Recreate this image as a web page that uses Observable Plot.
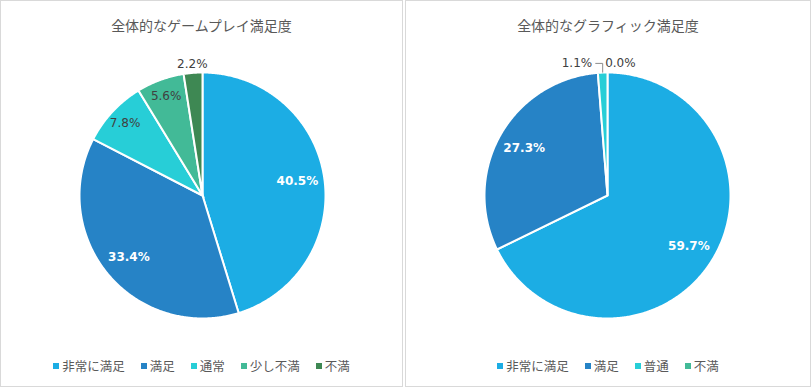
<!DOCTYPE html>
<html><head><meta charset="utf-8">
<script src="https://cdn.jsdelivr.net/npm/d3@7"></script>
<script src="https://cdn.jsdelivr.net/npm/@observablehq/plot@0.6"></script>
<style>
html,body{margin:0;padding:0;background:#fff;}
body{width:811px;height:387px;position:relative;overflow:hidden;font-family:"Noto Sans CJK JP","Noto Sans",sans-serif;}
.panel{position:absolute;top:0;height:385px;border:1px solid #d9d9d9;background:#fff;}
.title{position:absolute;top:15px;height:20px;line-height:20px;text-align:center;font-size:14px;color:#595959;white-space:nowrap;}
.chart{position:absolute;width:300px;height:300px;}
.legendbox{position:absolute;top:357px;text-align:center;}
.lg-swatches-wrap{min-height:0 !important;margin:0 !important;justify-content:center;line-height:18px;}
.lg-swatches-wrap .lg-swatch{margin-right:16px !important;}
.lg-swatches-wrap .lg-swatch:last-child{margin-right:0 !important;}
.lg-swatch > svg{margin-right:3px !important;}
</style>
</head><body>
<div class="panel" style="left:0;width:401px"></div>
<div class="panel" style="left:405px;width:404px"></div>
<script>
// ---- data ----
const gameplayTitle = "全体的なゲームプレイ満足度";
const gameplayCategories = ["非常に満足", "満足", "通常", "少し不満", "不満"];
const gameplayValues = [40.5, 33.4, 7.8, 5.6, 2.2];

const graphicsTitle = "全体的なグラフィック満足度";
const graphicsCategories = ["非常に満足", "満足", "普通", "不満"];
const graphicsValues = [59.7, 27.3, 1.1, 0.0];

// ---- styles ----
const palette = ["#1CADE4", "#2683C6", "#27CED7", "#42BA97", "#3E8853"];
const R = 123;           // pie radius in px
const HALF = 150;        // half size of chart svg
const S = HALF / R;      // scale domain half extent (unit = radius)

function drawPie(title, cats, vals, panelLeft, panelWidth, cx, cy) {
  const colors = palette.slice(0, cats.length);
  const rows = cats.map((c, i) => ({cat: c, value: vals[i]}));
  const total = d3.sum(vals);
  const arcs = d3.pie().sort(null).value(d => d.value)(rows);

  // polygon points for each slice (center + arc)
  const pts = [];
  for (const a of arcs) {
    if (a.endAngle - a.startAngle <= 0) continue;
    pts.push({cat: a.data.cat, x: 0, y: 0});
    const n = Math.max(2, Math.ceil((a.endAngle - a.startAngle) / (Math.PI / 360)));
    for (let k = 0; k <= n; k++) {
      const t = a.startAngle + (a.endAngle - a.startAngle) * k / n;
      pts.push({cat: a.data.cat, x: Math.sin(t), y: Math.cos(t)});
    }
  }

  // labels
  const labels = [];
  const outside = [];
  for (const a of arcs) {
    const share = a.data.value / total;
    const mid = (a.startAngle + a.endAngle) / 2;
    const text = a.data.value.toFixed(1) + "%";
    if (share >= 0.2) labels.push({kind: "big", text, x: 0.78 * Math.sin(mid), y: 0.78 * Math.cos(mid)});
    else if (share >= 0.03) labels.push({kind: "mid", text, x: 0.86 * Math.sin(mid), y: 0.86 * Math.cos(mid)});
    else outside.push({text, mid});
  }
  const outLabels = [];
  const leaders = [];
  if (outside.length === 1) {
    const o = outside[0];
    outLabels.push({text: o.text, x: 1.07 * Math.sin(o.mid), y: 1.07 * Math.cos(o.mid), anchor: "middle"});
  } else if (outside.length > 1) {
    const first = outside[0];
    const lx = Math.sin(first.mid);
    const ly = 1.074;
    outLabels.push({text: first.text, x: lx - 0.085, y: ly, anchor: "end"});
    leaders.push({x: lx - 0.06, y: ly}, {x: lx, y: ly}, {x: lx, y: Math.cos(first.mid)});
    outside.slice(1).forEach((o, i) => {
      outLabels.push({text: o.text, x: lx + 0.02 + i * 0.3, y: ly, anchor: "start"});
    });
  }

  const font = {fontFamily: "DejaVu Sans, Noto Sans, sans-serif", fontSize: 12};
  const chart = Plot.plot({
    width: 2 * HALF, height: 2 * HALF, margin: 0,
    x: {domain: [-S, S], axis: null},
    y: {domain: [-S, S], axis: null},
    color: {domain: cats, range: colors},
    style: {background: "transparent", overflow: "visible"},
    marks: [
      Plot.line(pts, {x: "x", y: "y", z: "cat", fill: "cat", stroke: "white", strokeWidth: 2, curve: "linear-closed", strokeLinejoin: "miter", strokeMiterlimit: 4}),
      Plot.text(labels.filter(d => d.kind === "big"), {x: "x", y: "y", text: "text", fill: "white", fontWeight: "bold", ...font}),
      Plot.text(labels.filter(d => d.kind === "mid"), {x: "x", y: "y", text: "text", fill: "#404040", ...font}),
      Plot.line(leaders, {x: "x", y: "y", stroke: "#8c8c8c", strokeWidth: 1, strokeLinejoin: "miter", strokeLinecap: "butt"}),
      Plot.text(outLabels, {x: "x", y: "y", text: "text", textAnchor: "end", fill: "#404040", filter: d => d.anchor === "end", ...font}),
      Plot.text(outLabels, {x: "x", y: "y", text: "text", textAnchor: "start", fill: "#404040", filter: d => d.anchor === "start", ...font}),
      Plot.text(outLabels, {x: "x", y: "y", text: "text", textAnchor: "middle", fill: "#404040", filter: d => d.anchor === "middle", ...font})
    ]
  });
  const wrap = document.createElement("div");
  wrap.className = "chart";
  wrap.style.left = (cx - HALF) + "px";
  wrap.style.top = (cy - HALF) + "px";
  wrap.appendChild(chart);
  document.body.appendChild(wrap);

  const t = document.createElement("div");
  t.className = "title";
  t.style.left = panelLeft + "px";
  t.style.width = panelWidth + "px";
  t.textContent = title;
  document.body.appendChild(t);

  const lg = Plot.legend({
    color: {type: "ordinal", domain: cats, range: colors},
    legend: "swatches",
    swatchSize: 6,
    className: "lg",
    style: {fontFamily: '"Noto Sans CJK JP", sans-serif', fontSize: "12.5px", color: "#595959"}
  });
  const lb = document.createElement("div");
  lb.className = "legendbox";
  lb.style.left = panelLeft + "px";
  lb.style.width = panelWidth + "px";
  lb.appendChild(lg);
  document.body.appendChild(lb);
}

drawPie(gameplayTitle, gameplayCategories, gameplayValues, 1, 401, 202, 195);
drawPie(graphicsTitle, graphicsCategories, graphicsValues, 406, 404, 607, 195);
</script>
</body></html>
